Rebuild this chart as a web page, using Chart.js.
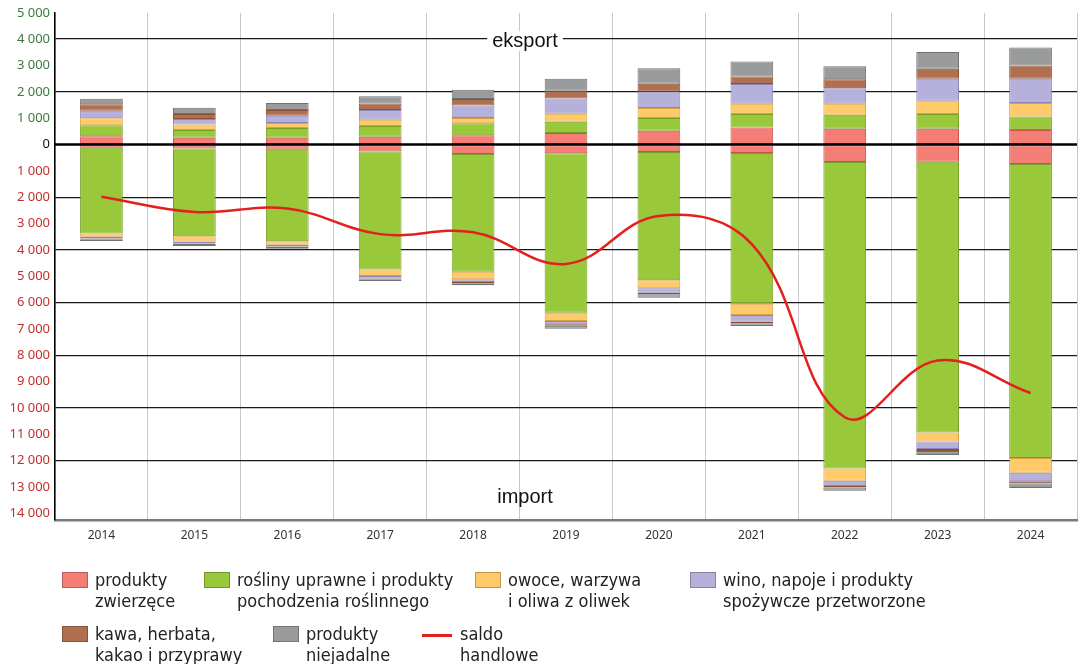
<!DOCTYPE html>
<html lang="pl">
<head>
<meta charset="utf-8">
<title>Handel rolno-spożywczy</title>
<script src="https://cdn.jsdelivr.net/npm/chart.js@4.4.1/dist/chart.umd.min.js"></script>
<style>
  html, body { margin: 0; padding: 0; background: #fff; }
  #wrap { position: relative; width: 1082px; height: 664px; overflow: hidden; }
  #chartBox { position: absolute; left: 0; top: 0; width: 1082px; height: 550px; }
  #legend { position: absolute; left: 0; top: 0; width: 1082px; height: 664px; pointer-events: none; }
  .item { position: absolute; display: flex; align-items: flex-start; }
  .swatch { width: 26px; height: 16px; margin-top: 3px; margin-right: 7px; box-sizing: border-box; border: 1px solid rgba(0,0,0,0.25); }
  .dash { width: 30px; height: 3px; margin-top: 11px; margin-right: 8px; }
  .txt { font-family: "Liberation Sans Narrow", "DejaVu Sans Condensed", "Liberation Sans", sans-serif; font-size: 18px; line-height: 21px; color: #222; white-space: nowrap; }
</style>
</head>
<body>
<div id="wrap">
  <div id="chartBox"><canvas id="chart"></canvas></div>
  <div id="legend"></div>
</div>
<script>
// lata
const years = ['2014', '2015', '2016', '2017', '2018', '2019', '2020', '2021', '2022', '2023', '2024'];

// eksport (mln EUR), od dołu stosu
const exportZwierzece   = [310, 258, 258, 295, 350, 435, 527, 650, 600, 600, 550];
const exportRosliny     = [420, 291, 367, 406, 455, 432, 477, 505, 530, 555, 510];
const exportOwoce       = [265, 216, 189, 242, 200, 303, 379, 395, 415, 510, 515];
const exportWino        = [290, 201, 277, 364, 480, 580, 632, 750, 590, 835, 925];
const exportKawa        = [245, 189, 216, 254, 240, 295, 292, 280, 340, 380, 500];
const exportNiejadalne  = [210, 239, 265, 276, 355, 455, 591, 570, 495, 630, 680];

// import (mln EUR), od zera w dół
const importZwierzece   = [120, 150, 160, 260, 360, 330, 285, 322, 663, 650, 740];
const importRosliny     = [3260, 3327, 3507, 4479, 4470, 6053, 4870, 5720, 11629, 10278, 11158];
const importOwoce       = [115, 205, 140, 253, 287, 314, 303, 428, 466, 341, 557];
const importWino        = [75, 76, 60, 88, 103, 125, 167, 253, 200, 288, 329];
const importKawa        = [20, 20, 25, 30, 40, 60, 60, 60, 60, 70, 80];
const importNiejadalne  = [70, 70, 66, 72, 85, 107, 129, 103, 122, 157, 170];

// saldo handlowe
const saldo = [-1980, -2560, -2430, -3400, -3330, -4530, -2710, -3780, -10350, -8200, -9430];

// podziałka osi Y
const yTickValues = [5000, 4000, 3000, 2000, 1000, 0, -1000, -2000, -3000, -4000, -5000, -6000,
  -7000, -8000, -9000, -10000, -11000, -12000, -13000, -14000];

const seriesLabels = [
  ['produkty', 'zwierzęce'],
  ['rośliny uprawne i produkty', 'pochodzenia roślinnego'],
  ['owoce, warzywa', 'i oliwa z oliwek'],
  ['wino, napoje i produkty', 'spożywcze przetworzone'],
  ['kawa, herbata,', 'kakao i przyprawy'],
  ['produkty', 'niejadalne']
];
const saldoLabel = ['saldo', 'handlowe'];

const fills   = ['#f47d76', '#99c93b', '#ffca6a', '#b5b1da', '#b0704f', '#9a9b9c'];
const borders = ['#c9524c', '#77a02a', '#d9a044', '#8c87b8', '#8a4f35', '#707272'];
const saldoColor = '#e3211c';

const exportSeries = [exportZwierzece, exportRosliny, exportOwoce, exportWino, exportKawa, exportNiejadalne];
const importSeries = [importZwierzece, importRosliny, importOwoce, importWino, importKawa, importNiejadalne];

function fmt(v) {
  return String(Math.abs(v)).replace(/\B(?=(\d{3})+(?!\d))/g, ' ');
}

const datasets = [];
exportSeries.forEach((arr, i) => {
  datasets.push({
    type: 'bar',
    label: seriesLabels[i].join(' '),
    data: arr,
    backgroundColor: fills[i],
    borderColor: borders[i],
    borderWidth: 1,
    borderSkipped: false,
    stack: 'handel',
    order: 2
  });
});
importSeries.forEach((arr, i) => {
  datasets.push({
    type: 'bar',
    label: seriesLabels[i].join(' ') + ' (import)',
    data: arr.map(v => -v),
    backgroundColor: fills[i],
    borderColor: borders[i],
    borderWidth: 1,
    borderSkipped: false,
    stack: 'handel',
    order: 2
  });
});
datasets.push({
  type: 'line',
  label: saldoLabel.join(' '),
  data: saldo,
  borderColor: saldoColor,
  borderWidth: 2.5,
  pointRadius: 0,
  tension: 0.4,
  fill: false,
  order: 0
});

// linia zera nad słupkami + napisy eksport / import
const overlayPlugin = {
  id: 'overlay',
  afterDatasetsDraw(chart) {
    const { ctx, chartArea, scales: { y } } = chart;
    const y0 = y.getPixelForValue(0);
    ctx.save();
    ctx.strokeStyle = '#000';
    ctx.lineWidth = 2.5;
    ctx.beginPath();
    ctx.moveTo(chartArea.left, y0);
    ctx.lineTo(chartArea.right, y0);
    ctx.stroke();
    ctx.restore();
  },
  afterDraw(chart) {
    const { ctx, chartArea, scales: { y } } = chart;
    const cx = chartArea.left + 470;
    ctx.save();
    ctx.font = '20px "Liberation Sans", Arial, sans-serif';
    ctx.textAlign = 'center';
    ctx.textBaseline = 'middle';
    const ey = y.getPixelForValue(4000) + 2;
    const w = ctx.measureText('eksport').width;
    ctx.fillStyle = '#fff';
    ctx.fillRect(cx - w / 2 - 5, ey - 10, w + 10, 20);
    ctx.fillStyle = '#111';
    ctx.fillText('eksport', cx, ey);
    ctx.fillText('import', cx, y.getPixelForValue(-13400));
    ctx.restore();
  }
};

const ctx = document.getElementById('chart').getContext('2d');
new Chart(ctx, {
  data: { labels: years, datasets },
  options: {
    responsive: true,
    maintainAspectRatio: false,
    animation: false,
    layout: { padding: { top: 11, right: 5, left: 0, bottom: 0 } },
    datasets: { bar: { barPercentage: 0.46, categoryPercentage: 1 } },
    scales: {
      x: {
        stacked: true,
        offset: true,
        afterFit(scale) { scale.height = 30; },
        grid: { offset: true, color: '#c8c8c8', lineWidth: 1, drawTicks: false },
        border: { display: true, color: '#7a7a7a', width: 2.5 },
        ticks: {
          color: '#333',
          padding: 8,
          font: { family: '"Noto Sans", sans-serif', size: 12 }
        }
      },
      y: {
        stacked: true,
        min: -14250,
        max: 5000,
        afterBuildTicks(scale) {
          scale.ticks = yTickValues.map(v => ({ value: v }));
        },
        afterFit(scale) { scale.width = 55; },
        grid: {
          drawTicks: false,
          color: c => {
            const v = c.tick && c.tick.value;
            if (v === undefined || v === 0 || v === 5000 || v === -14000) return 'rgba(0,0,0,0)';
            return v % 2000 === 0 ? '#1a1a1a' : 'rgba(0,0,0,0)';
          },
          lineWidth: 1.3
        },
        border: { display: true, color: '#000', width: 1.5 },
        ticks: {
          padding: 5,
          font: { family: '"Noto Sans", sans-serif', size: 13 },
          color: c => c.tick.value > 0 ? '#3b7a3e' : (c.tick.value < 0 ? '#c0302e' : '#111'),
          callback: v => fmt(v)
        }
      }
    },
    plugins: {
      legend: { display: false },
      tooltip: { enabled: false }
    }
  },
  plugins: [overlayPlugin]
});

// legenda (HTML)
const legendPos = [[62, 569], [204, 569], [475, 569], [690, 569], [62, 623], [273, 623]];
const legendEl = document.getElementById('legend');
seriesLabels.forEach((lines, i) => {
  const item = document.createElement('div');
  item.className = 'item';
  item.style.left = legendPos[i][0] + 'px';
  item.style.top = legendPos[i][1] + 'px';
  const sw = document.createElement('div');
  sw.className = 'swatch';
  sw.style.background = fills[i];
  const tx = document.createElement('div');
  tx.className = 'txt';
  tx.innerHTML = lines.join('<br>');
  item.appendChild(sw);
  item.appendChild(tx);
  legendEl.appendChild(item);
});
const sItem = document.createElement('div');
sItem.className = 'item';
sItem.style.left = '422px';
sItem.style.top = '623px';
const dash = document.createElement('div');
dash.className = 'dash';
dash.style.background = saldoColor;
const sTx = document.createElement('div');
sTx.className = 'txt';
sTx.innerHTML = saldoLabel.join('<br>');
sItem.appendChild(dash);
sItem.appendChild(sTx);
legendEl.appendChild(sItem);
</script>
</body>
</html>
